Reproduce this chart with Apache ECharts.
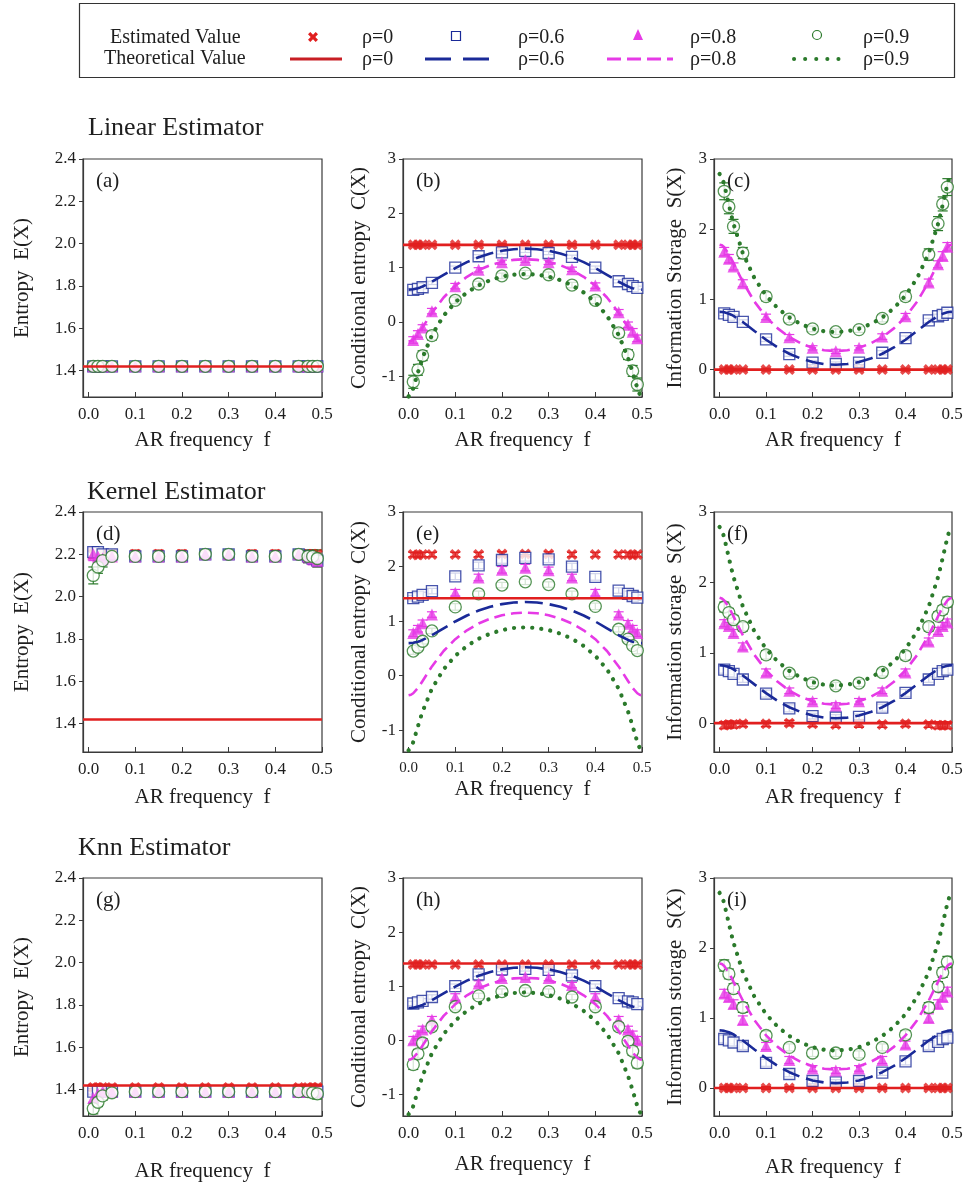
<!DOCTYPE html>
<html><head><meta charset="utf-8">
<script src="https://cdn.jsdelivr.net/npm/echarts@6/dist/echarts.min.js"></script>
<style>html,body{margin:0;padding:0;background:#fff}#c{width:966px;height:1184px}</style>
</head><body><div id="c"></div>
<script>
// ---- frequencies of the estimated points
const F = [0.01,0.02,0.03,0.05,0.1,0.15,0.2,0.25,0.3,0.35,0.4,0.45,0.47,0.48,0.49];
// ---- frequencies of the theoretical curves
const TF = [0,0.005,0.01,0.02,0.025,0.03,0.05,0.075,0.1,0.125,0.15,0.175,0.2,0.225,0.25,0.275,0.3,0.325,0.35,0.375,0.4,0.425,0.45,0.47,0.475,0.48,0.49,0.495,0.5];
const FLAT_F = [-0.012, 0.5];
// theoretical values
const thE0 = [1.419, 1.419];
const thC0 = [1.419, 1.419];
const thS0 = [0, 0];
const thC6 = [0.596,0.598,0.603,0.623,0.637,0.654,0.741,0.868,0.993,1.103,1.193,1.262,1.311,1.340,1.350,1.340,1.311,1.262,1.193,1.103,0.993,0.868,0.741,0.654,0.637,0.623,0.603,0.598,0.596];
const thC8 = [-0.361,-0.351,-0.323,-0.226,-0.164,-0.097,0.169,0.451,0.668,0.832,0.956,1.046,1.108,1.144,1.155,1.144,1.108,1.046,0.956,0.832,0.668,0.451,0.169,-0.097,-0.164,-0.226,-0.323,-0.351,-0.361];
const thC9 = [-1.369,-1.326,-1.217,-0.929,-0.788,-0.657,-0.239,0.116,0.364,0.544,0.676,0.771,0.836,0.873,0.885,0.873,0.836,0.771,0.676,0.544,0.364,0.116,-0.239,-0.657,-0.788,-0.929,-1.217,-1.326,-1.369];
const thS6 = [0.823,0.821,0.816,0.796,0.782,0.765,0.678,0.551,0.426,0.316,0.226,0.157,0.108,0.079,0.069,0.079,0.108,0.157,0.226,0.316,0.426,0.551,0.678,0.765,0.782,0.796,0.816,0.821,0.823];
const thS8 = [1.780,1.770,1.742,1.645,1.583,1.516,1.250,0.968,0.751,0.587,0.463,0.373,0.311,0.275,0.264,0.275,0.311,0.373,0.463,0.587,0.751,0.968,1.250,1.516,1.583,1.645,1.742,1.770,1.780];
const thS9 = [2.788,2.745,2.636,2.348,2.207,2.076,1.658,1.303,1.055,0.875,0.743,0.648,0.583,0.546,0.534,0.546,0.583,0.648,0.743,0.875,1.055,1.303,1.658,2.076,2.207,2.348,2.636,2.745,2.788];

// ---- Linear estimator (estimated values)
const linE0 = [1.42,1.42,1.42,1.42,1.42,1.42,1.42,1.42,1.42,1.42,1.42,1.42,1.42,1.42,1.42];
const linE6 = [1.42,1.42,1.42,1.42,1.42,1.42,1.42,1.42,1.42,1.42,1.42,1.42,1.42,1.42,1.42];
const linE8 = [1.42,1.42,1.42,1.42,1.42,1.42,1.42,1.42,1.42,1.42,1.42,1.42,1.42,1.42,1.42];
const linE9 = [1.42,1.42,1.42,1.42,1.42,1.42,1.42,1.42,1.42,1.42,1.42,1.42,1.42,1.42,1.42];
const linC0 = [1.42,1.42,1.42,1.42,1.42,1.42,1.42,1.42,1.42,1.42,1.42,1.42,1.42,1.42,1.42];
const linC6 = [0.59,0.61,0.64,0.72,1.0,1.21,1.28,1.31,1.27,1.2,1.0,0.75,0.7,0.66,0.63];
const linC8 = [-0.33,-0.22,-0.1,0.2,0.66,0.96,1.1,1.14,1.1,0.97,0.67,0.18,-0.05,-0.18,-0.3];
const linC9 = [-1.1,-0.88,-0.62,-0.25,0.4,0.7,0.85,0.9,0.87,0.68,0.4,-0.2,-0.6,-0.9,-1.15];
const linS0 = [0,0,0,0,0,0,0,0,0,0,0,0,0,0,0];
const linS6 = [0.8,0.78,0.75,0.68,0.43,0.22,0.1,0.08,0.1,0.24,0.45,0.7,0.76,0.78,0.81];
const linS8 = [1.68,1.58,1.47,1.23,0.75,0.46,0.31,0.26,0.31,0.47,0.76,1.24,1.5,1.62,1.75];
const linS9 = [2.54,2.32,2.04,1.66,1.04,0.72,0.58,0.54,0.57,0.73,1.04,1.64,2.08,2.36,2.6];
// ---- Kernel estimator
const kerE0 = [2.2,2.2,2.2,2.2,2.2,2.2,2.2,2.2,2.2,2.2,2.2,2.2,2.2,2.2,2.2];
const kerE6 = [2.21,2.21,2.2,2.2,2.19,2.19,2.19,2.2,2.2,2.19,2.19,2.2,2.19,2.18,2.17];
const kerE8 = [2.2,2.19,2.18,2.19,2.19,2.19,2.19,2.2,2.2,2.19,2.19,2.2,2.19,2.18,2.17];
const kerE9 = [2.1,2.14,2.17,2.19,2.19,2.19,2.19,2.2,2.2,2.19,2.19,2.2,2.19,2.19,2.18];
const kerC0 = [2.22,2.21,2.22,2.22,2.22,2.22,2.23,2.23,2.23,2.22,2.22,2.22,2.22,2.21,2.22];
const kerC6 = [1.42,1.45,1.48,1.55,1.82,2.02,2.12,2.16,2.13,2.0,1.81,1.56,1.5,1.46,1.43];
const kerC8 = [0.78,0.86,0.96,1.12,1.52,1.8,1.94,1.98,1.93,1.8,1.52,1.12,0.95,0.86,0.78];
const kerC9 = [0.45,0.52,0.63,0.82,1.26,1.5,1.66,1.72,1.67,1.5,1.27,0.85,0.67,0.55,0.46];
const kerS0 = [-0.03,-0.02,-0.02,-0.01,-0.01,0,-0.01,-0.02,-0.01,-0.02,-0.01,-0.02,-0.03,-0.03,-0.03];
const kerS6 = [0.76,0.74,0.7,0.62,0.42,0.21,0.1,0.08,0.09,0.22,0.43,0.62,0.7,0.74,0.76];
const kerS8 = [1.42,1.38,1.28,1.09,0.72,0.46,0.31,0.25,0.31,0.46,0.72,1.16,1.31,1.38,1.43];
const kerS9 = [1.65,1.57,1.47,1.37,0.97,0.71,0.57,0.53,0.57,0.72,0.96,1.37,1.52,1.61,1.72];
// ---- Knn estimator
const knnE0 = [1.41,1.41,1.41,1.41,1.41,1.41,1.41,1.41,1.41,1.41,1.41,1.41,1.41,1.41,1.41];
const knnE6 = [1.39,1.39,1.39,1.39,1.39,1.39,1.39,1.39,1.39,1.39,1.39,1.39,1.39,1.39,1.39];
const knnE8 = [1.36,1.38,1.39,1.39,1.39,1.39,1.39,1.39,1.39,1.39,1.39,1.39,1.39,1.39,1.39];
const knnE9 = [1.31,1.34,1.37,1.385,1.39,1.39,1.39,1.39,1.39,1.39,1.39,1.39,1.39,1.385,1.38];
const knnC0 = [1.4,1.4,1.4,1.4,1.4,1.4,1.4,1.4,1.4,1.4,1.4,1.4,1.4,1.4,1.4];
const knnC6 = [0.68,0.7,0.73,0.8,1.0,1.22,1.31,1.32,1.3,1.2,1.0,0.78,0.72,0.7,0.67];
const knnC8 = [0.0,0.1,0.2,0.38,0.8,1.05,1.15,1.17,1.15,1.02,0.8,0.38,0.2,0.1,0.0];
const knnC9 = [-0.45,-0.25,-0.05,0.25,0.62,0.82,0.9,0.92,0.9,0.8,0.62,0.25,-0.02,-0.2,-0.42];
const knnS0 = [0,0,0,0,0,0,0,0,0,0,0,0,0,0,0];
const knnS6 = [0.7,0.68,0.65,0.6,0.36,0.2,0.1,0.08,0.1,0.22,0.38,0.6,0.66,0.7,0.72];
const knnS8 = [1.35,1.3,1.2,0.97,0.6,0.4,0.28,0.25,0.28,0.4,0.62,1.0,1.2,1.3,1.38];
const knnS9 = [1.75,1.63,1.42,1.15,0.75,0.58,0.5,0.5,0.48,0.58,0.76,1.15,1.45,1.65,1.8];

// ---- error-bar half widths
const errLinC0 = [0.02,0.02,0.02,0.02,0.02,0.02,0.02,0.02,0.02,0.02,0.02,0.02,0.02,0.02,0.02];
const errLinC6 = [0.03,0.03,0.03,0.03,0.03,0.03,0.03,0.03,0.03,0.03,0.03,0.03,0.03,0.03,0.03];
const errLinC8 = [0.06,0.06,0.05,0.05,0.05,0.04,0.04,0.04,0.04,0.04,0.05,0.05,0.05,0.06,0.06];
const errLinC9 = [0.12,0.1,0.09,0.08,0.06,0.05,0.05,0.05,0.05,0.05,0.06,0.08,0.09,0.1,0.12];
const errLinS0 = [0.02,0.02,0.02,0.02,0.02,0.02,0.02,0.02,0.02,0.02,0.02,0.02,0.02,0.02,0.02];
const errLinS6 = [0.03,0.03,0.03,0.03,0.03,0.03,0.03,0.03,0.03,0.03,0.03,0.03,0.03,0.03,0.03];
const errLinS8 = [0.06,0.06,0.05,0.05,0.04,0.04,0.03,0.03,0.03,0.04,0.04,0.05,0.05,0.06,0.06];
const errLinS9 = [0.12,0.1,0.1,0.08,0.06,0.05,0.04,0.04,0.04,0.05,0.06,0.08,0.1,0.1,0.12];
const errKerE0 = [0.02,0.02,0.02,0.02,0.02,0.02,0.02,0.02,0.02,0.02,0.02,0.02,0.02,0.02,0.02];
const errKerE6 = [0.02,0.02,0.02,0.02,0.02,0.02,0.02,0.02,0.02,0.02,0.02,0.02,0.02,0.02,0.02];
const errKerE8 = [0.03,0.03,0.03,0.02,0.02,0.02,0.02,0.02,0.02,0.02,0.02,0.02,0.03,0.03,0.03];
const errKerE9 = [0.04,0.03,0.03,0.02,0.02,0.02,0.02,0.02,0.02,0.02,0.02,0.02,0.03,0.03,0.04];
const errKerC0 = [0.04,0.04,0.04,0.04,0.04,0.04,0.04,0.04,0.04,0.04,0.04,0.04,0.04,0.04,0.04];
const errKerC6 = [0.05,0.05,0.05,0.05,0.06,0.06,0.06,0.06,0.06,0.06,0.06,0.05,0.05,0.05,0.05];
const errKerC8 = [0.06,0.06,0.06,0.05,0.06,0.06,0.06,0.06,0.06,0.06,0.06,0.05,0.06,0.06,0.06];
const errKerC9 = [0.06,0.06,0.05,0.05,0.06,0.05,0.05,0.05,0.05,0.05,0.06,0.05,0.05,0.06,0.06];
const errKerS0 = [0.05,0.05,0.05,0.04,0.04,0.04,0.04,0.04,0.05,0.04,0.04,0.04,0.05,0.05,0.05];
const errKerS6 = [0.05,0.05,0.05,0.04,0.05,0.05,0.04,0.04,0.04,0.05,0.05,0.04,0.05,0.05,0.05];
const errKerS8 = [0.05,0.05,0.05,0.05,0.05,0.04,0.04,0.04,0.04,0.04,0.05,0.05,0.05,0.05,0.05];
const errKerS9 = [0.07,0.06,0.06,0.06,0.06,0.05,0.05,0.05,0.05,0.05,0.06,0.06,0.06,0.06,0.07];
const errKnnE0 = [0.015,0.015,0.015,0.015,0.015,0.015,0.015,0.015,0.015,0.015,0.015,0.015,0.015,0.015,0.015];
const errKnnE6 = [0.015,0.015,0.015,0.015,0.015,0.015,0.015,0.015,0.015,0.015,0.015,0.015,0.015,0.015,0.015];
const errKnnE8 = [0.02,0.02,0.015,0.015,0.015,0.015,0.015,0.015,0.015,0.015,0.015,0.015,0.015,0.015,0.02];
const errKnnE9 = [0.025,0.02,0.02,0.015,0.015,0.015,0.015,0.015,0.015,0.015,0.015,0.015,0.015,0.02,0.025];
const errKnnC0 = [0.03,0.03,0.03,0.03,0.03,0.03,0.03,0.03,0.03,0.03,0.03,0.03,0.03,0.03,0.03];
const errKnnC6 = [0.04,0.04,0.04,0.04,0.04,0.04,0.04,0.04,0.04,0.04,0.04,0.04,0.04,0.04,0.04];
const errKnnC8 = [0.07,0.07,0.06,0.06,0.06,0.05,0.05,0.05,0.05,0.05,0.06,0.06,0.06,0.07,0.07];
const errKnnC9 = [0.09,0.08,0.08,0.07,0.06,0.05,0.05,0.05,0.05,0.05,0.06,0.07,0.08,0.08,0.09];
const errKnnS0 = [0.02,0.02,0.02,0.02,0.02,0.02,0.02,0.02,0.02,0.02,0.02,0.02,0.02,0.02,0.02];
const errKnnS6 = [0.05,0.05,0.05,0.05,0.05,0.04,0.04,0.04,0.04,0.04,0.05,0.05,0.05,0.05,0.05];
const errKnnS8 = [0.06,0.06,0.06,0.06,0.05,0.05,0.04,0.04,0.04,0.05,0.05,0.06,0.06,0.06,0.06];
const errKnnS9 = [0.08,0.07,0.07,0.07,0.06,0.05,0.05,0.05,0.05,0.05,0.06,0.07,0.07,0.07,0.08];

// ---- tick labels & texts
const X_TICKS = [0,0.1,0.2,0.3,0.4,0.5];
const E_TICKS = [1.4,1.6,1.8,2.0,2.2,2.4];
const C_TICKS = [-1,0,1,2,3];
const S_TICKS = [0,1,2,3];
const PANEL_LABELS = ['(a)','(b)','(c)','(d)','(e)','(f)','(g)','(h)','(i)'];
const ROW_TITLES = ['Linear Estimator','Kernel Estimator','Knn Estimator'];
const LEGEND_RHO = ['\u03c1=0','\u03c1=0.6','\u03c1=0.8','\u03c1=0.9'];

const SERIF = '"Liberation Serif","DejaVu Serif",serif';
const TXT = '#1e1e1e';
const AX = '#3a3a3a';
const RED = '#e11f1f', BLUE = '#1a2a98', MAG = '#e63ae6', GRN = '#2b7a2b';
const XSHAPE = 'M0,2.3L2.3,0L5,2.7L7.7,0L10,2.3L7.3,5L10,7.7L7.7,10L5,7.3L2.3,10L0,7.7L2.7,5Z';

const COLS = [{l:83,w:239},{l:403,w:239},{l:714,w:238}];
const ROWS = [{t:159,h:238},{t:512,h:240},{t:878,h:238}];

const panels = [
  {est:[linE0,linE6,linE8,linE9], err:null, kind:'E', ymin:1.275, yname:'Entropy  E(X)', ygap:50, xgap:33, xfs:17},
  {est:[linC0,linC6,linC8,linC9], err:[errLinC0,errLinC6,errLinC8,errLinC9], kind:'C', ymin:-1.38, yname:'Conditional entropy  C(X)', ygap:33, xgap:33, xfs:17},
  {est:[linS0,linS6,linS8,linS9], err:[errLinS0,errLinS6,errLinS8,errLinS9], kind:'S', ymin:-0.39, yname:'Information Storage  S(X)', ygap:28, xgap:33, xfs:17},
  {est:[kerE0,kerE6,kerE8,kerE9], err:[errKerE0,errKerE6,errKerE8,errKerE9], kind:'E', ymin:1.265, yname:'Entropy  E(X)', ygap:50, xgap:35, xfs:17},
  {est:[kerC0,kerC6,kerC8,kerC9], err:[errKerC0,errKerC6,errKerC8,errKerC9], kind:'C', ymin:-1.4, yname:'Conditional entropy  C(X)', ygap:33, xgap:27, xfs:15},
  {est:[kerS0,kerS6,kerS8,kerS9], err:[errKerS0,errKerS6,errKerS8,errKerS9], kind:'S', ymin:-0.41, yname:'Information storage  S(X)', ygap:28, xgap:35, xfs:17},
  {est:[knnE0,knnE6,knnE8,knnE9], err:[errKnnE0,errKnnE6,errKnnE8,errKnnE9], kind:'E', ymin:1.275, yname:'Entropy  E(X)', ygap:50, xgap:45, xfs:17},
  {est:[knnC0,knnC6,knnC8,knnC9], err:[errKnnC0,errKnnC6,errKnnC8,errKnnC9], kind:'C', ymin:-1.4, yname:'Conditional entropy  C(X)', ygap:33, xgap:38, xfs:17},
  {est:[knnS0,knnS6,knnS8,knnS9], err:[errKnnS0,errKnnS6,errKnnS8,errKnnS9], kind:'S', ymin:-0.4, yname:'Information storage  S(X)', ygap:28, xgap:41, xfs:17}
];

const pairs = (xs, ys) => xs.map((x, i) => [x, ys[i]]);
const errRows = (xs, ys, es) => xs.map((x, i) => [x, ys[i] - es[i], ys[i] + es[i]]);

const errBarRender = color => (params, api) => {
  const x = api.value(0);
  const p1 = api.coord([x, api.value(1)]);
  const p2 = api.coord([x, api.value(2)]);
  const w = 5;
  const st = {stroke:color, lineWidth:1.2};
  return {type:'group', children:[
    {type:'line', shape:{x1:p1[0], y1:p1[1], x2:p2[0], y2:p2[1]}, style:st},
    {type:'line', shape:{x1:p1[0] - w, y1:p1[1], x2:p1[0] + w, y2:p1[1]}, style:st},
    {type:'line', shape:{x1:p2[0] - w, y1:p2[1], x2:p2[0] + w, y2:p2[1]}, style:st}
  ]};
};

const grids = [], xAxes = [], yAxes = [], series = [], graphic = [];
const EST_COLORS = [RED, BLUE, MAG, GRN];
panels.forEach((p, i) => {
  const c = COLS[i % 3], r = ROWS[Math.floor(i / 3)];
  grids.push({left:c.l, top:r.t, width:c.w, height:r.h, show:true, borderColor:AX, borderWidth:1.2, backgroundColor:'transparent'});
  xAxes.push({type:'value', gridIndex:i, min:-0.012, max:0.5,
    name:'AR frequency  f', nameLocation:'middle', nameGap:p.xgap,
    nameTextStyle:{fontFamily:SERIF, fontSize:21, color:TXT},
    axisLine:{show:true, onZero:false, lineStyle:{color:AX, width:1.2}},
    axisTick:{show:true, inside:true, length:5, customValues:X_TICKS, lineStyle:{color:AX}},
    axisLabel:{customValues:X_TICKS, formatter:v => Number(v).toFixed(1), fontFamily:SERIF, fontSize:p.xfs, color:TXT, margin:9},
    splitLine:{show:false}});
  const ticks = p.kind === 'E' ? E_TICKS : (p.kind === 'C' ? C_TICKS : S_TICKS);
  yAxes.push({type:'value', gridIndex:i, min:p.ymin, max:p.kind === 'E' ? 2.4 : 3,
    name:p.yname, nameLocation:'middle', nameGap:p.ygap,
    nameTextStyle:{fontFamily:SERIF, fontSize:21, color:TXT},
    axisLine:{show:true, onZero:false, lineStyle:{color:AX, width:1.2}},
    axisTick:{show:true, inside:false, length:4, customValues:ticks, lineStyle:{color:AX}},
    axisLabel:{customValues:ticks, formatter:v => p.kind === 'E' ? Number(v).toFixed(1) : String(Math.round(v)),
      fontFamily:SERIF, fontSize:17, color:TXT, margin:7},
    splitLine:{show:false}});

  // error bars
  if (p.err) {
    p.est.forEach((vals, k) => {
      series.push({type:'custom', xAxisIndex:i, yAxisIndex:i, z:1, silent:true, clip:true,
        renderItem:errBarRender(EST_COLORS[k]), encode:{x:0, y:[1, 2]},
        data:errRows(F, vals, p.err[k])});
    });
  }
  // estimated values
  const [e0, e6, e8, e9] = p.est;
  series.push({type:'scatter', xAxisIndex:i, yAxisIndex:i, z:2, symbol:'path://' + XSHAPE, symbolSize:11,
    itemStyle:{color:RED}, data:pairs(F, e0)});
  series.push({type:'scatter', xAxisIndex:i, yAxisIndex:i, z:2, symbol:'rect', symbolSize:11,
    itemStyle:{color:'#fff', borderColor:BLUE, borderWidth:1.3}, data:pairs(F, e6)});
  series.push({type:'scatter', xAxisIndex:i, yAxisIndex:i, z:2, symbol:'triangle', symbolSize:12,
    itemStyle:{color:MAG}, data:pairs(F, e8)});
  series.push({type:'scatter', xAxisIndex:i, yAxisIndex:i, z:2, symbol:'circle', symbolSize:12,
    itemStyle:{color:'#fff', borderColor:GRN, borderWidth:1.3}, data:pairs(F, e9)});

  // theoretical values
  const line = (xs, ys, color, type, width, cap) => ({type:'line', xAxisIndex:i, yAxisIndex:i, z:3,
    showSymbol:false, symbol:'none', silent:true, data:pairs(xs, ys),
    lineStyle:{color, width, type, cap:cap || 'butt'}});
  if (p.kind === 'E') {
    series.push(line(FLAT_F, thE0, RED, 'solid', 2.6));
  } else if (p.kind === 'C') {
    series.push(line(TF, thC6, BLUE, [18, 7], 2.6));
    series.push(line(TF, thC8, MAG, [11, 6], 2.6));
    series.push(line(TF, thC9, GRN, [0.1, 9], 4.2, 'round'));
    series.push(line(FLAT_F, thC0, RED, 'solid', 2.6));
  } else {
    series.push(line(TF, thS6, BLUE, [18, 7], 2.6));
    series.push(line(TF, thS8, MAG, [11, 6], 2.6));
    series.push(line(TF, thS9, GRN, [0.1, 9], 4.2, 'round'));
    series.push(line(FLAT_F, thS0, RED, 'solid', 2.6));
  }

  graphic.push({type:'text', x:c.l + 13, y:r.t + 12, z:10,
    style:{text:PANEL_LABELS[i], font:'21px ' + SERIF, fill:TXT, textVerticalAlign:'top'}});
});

// row titles
[[88, 128], [87, 492], [78, 848]].forEach((pos, k) => {
  graphic.push({type:'text', x:pos[0], y:pos[1], style:{text:ROW_TITLES[k], font:'26px ' + SERIF, fill:TXT, textVerticalAlign:'middle'}});
});

// legend box
graphic.push({type:'rect', shape:{x:79.5, y:3.5, width:875, height:74}, style:{fill:'#fff', stroke:'#333', lineWidth:1.2}, z:20});
const LT = (text, x, y) => ({type:'text', x, y, z:21, style:{text, font:'20px ' + SERIF, fill:TXT, textVerticalAlign:'middle'}});
graphic.push(LT('Estimated Value', 110, 38));
graphic.push(LT('Theoretical Value', 104, 59));
const rhoX = [362, 518, 690, 863];
rhoX.forEach((x, k) => { graphic.push(LT(LEGEND_RHO[k], x, 38)); graphic.push(LT(LEGEND_RHO[k], x, 60)); });
// legend symbols
graphic.push({type:'polygon', z:21, shape:{points:[[308,34.3],[310.3,32],[313,34.7],[315.7,32],[318,34.3],[315.3,37],[318,39.7],[315.7,42],[313,39.3],[310.3,42],[308,39.7],[310.7,37]]}, style:{fill:RED}});
graphic.push({type:'rect', z:21, shape:{x:451.5, y:31.5, width:9, height:9}, style:{fill:'#fff', stroke:BLUE, lineWidth:1.2}});
graphic.push({type:'polygon', z:21, shape:{points:[[638,29],[643,40],[633,40]]}, style:{fill:MAG}});
graphic.push({type:'circle', z:21, shape:{cx:817, cy:35, r:4.5}, style:{fill:'#fff', stroke:GRN, lineWidth:1.2}});
graphic.push({type:'line', z:21, shape:{x1:290, y1:59, x2:342, y2:59}, style:{stroke:'#c81e24', lineWidth:3}});
graphic.push({type:'line', z:21, shape:{x1:425, y1:59, x2:497, y2:59}, style:{stroke:BLUE, lineWidth:3, lineDash:[26, 12]}});
graphic.push({type:'line', z:21, shape:{x1:607, y1:59, x2:673, y2:59}, style:{stroke:MAG, lineWidth:3, lineDash:[14, 6]}});
graphic.push({type:'line', z:21, shape:{x1:794, y1:59, x2:842, y2:59}, style:{stroke:GRN, lineWidth:4, lineDash:[0.1, 11], lineCap:'round'}});

const chart = echarts.init(document.getElementById('c'), null, {renderer:'canvas'});
chart.setOption({animation:false, backgroundColor:'#fff', grid:grids, xAxis:xAxes, yAxis:yAxes, series, graphic});
</script></body></html>
